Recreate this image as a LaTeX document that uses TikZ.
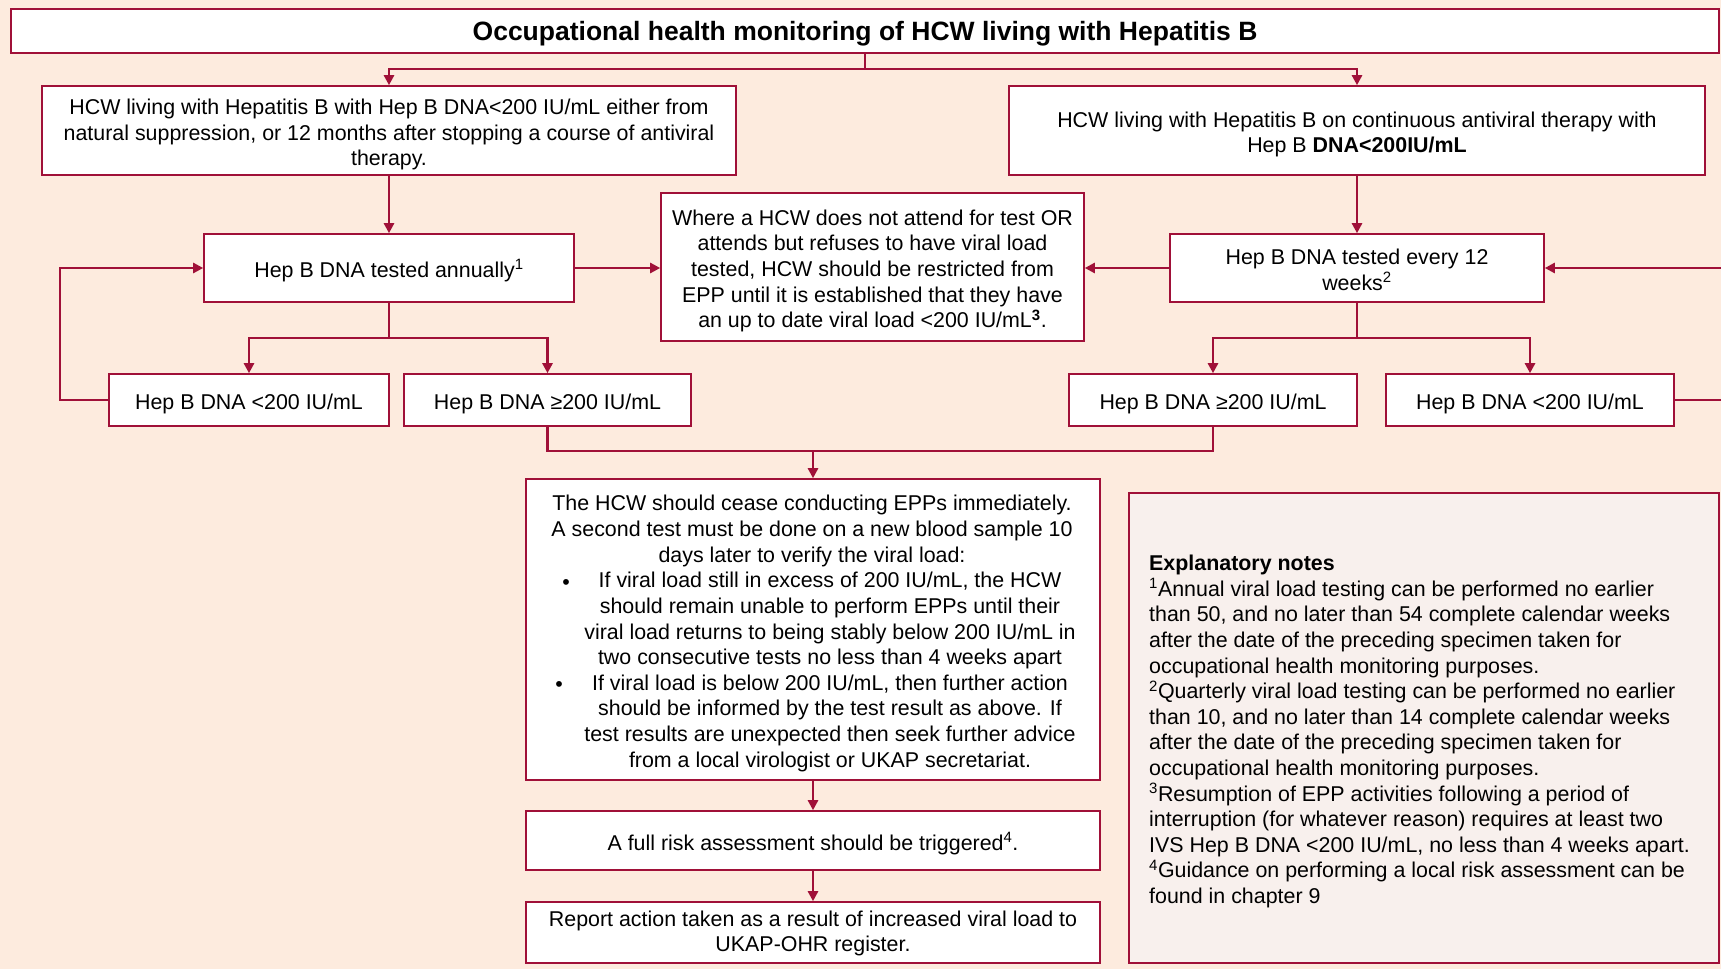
\documentclass[tikz,border=0pt]{standalone}
\usepackage{fontspec}
\setmainfont{Liberation Sans}
\usetikzlibrary{arrows.meta}
\definecolor{hbred}{RGB}{160,16,56}
\definecolor{peach}{RGB}{253,235,222}
\definecolor{notefill}{RGB}{248,240,237}
% struts that give every text block the same vertical extent
\newcommand{\ts}{\rule{0pt}{24pt}}
\newcommand{\bs}{\rule[-5pt]{0pt}{0pt}}
\begin{document}
\begin{tikzpicture}[x=1pt,y=-1pt,
  bodyfont/.style={font=\fontsize{21.4}{25.6}\selectfont},
  box/.style={draw=hbred, line width=1.6pt, fill=white, align=center,
    inner sep=0pt, bodyfont},
  txt/.style={inner sep=0pt, bodyfont},
  dot/.style={inner sep=0pt, bodyfont},
  conn/.style={draw=hbred, line width=2.6pt},
  arr/.style={conn, -{Triangle[length=10pt,width=10pt]}}]

% page background
\fill[peach] (0,0) rectangle (1721,969);
\useasboundingbox (0,0) rectangle (1721,969);

% title
\node[box, minimum width=1708pt, minimum height=44pt,
  font=\fontsize{26.5}{31}\selectfont\bfseries] (T) at (865,31)
  {\ts Occupational health monitoring of HCW living with Hepatitis B\bs};

% entry boxes
\node[box, minimum width=694pt, minimum height=89pt] (A) at (389,130.5)
  {\ts HCW living with Hepatitis B with Hep B DNA<200 IU/mL either from\\
   natural suppression, or 12 months after stopping a course of antiviral\\
   therapy.\bs};
\node[box, minimum width=696pt, minimum height=89pt] (B) at (1357,130.5)
  {\ts HCW living with Hepatitis B on continuous antiviral therapy with\\
   Hep B \textbf{DNA<200IU/mL}\bs};

% testing boxes
\node[box, minimum width=370pt, minimum height=68pt] (C) at (389,268)
  {\ts Hep B DNA tested annually\textsuperscript{1}\bs};
\node[box, minimum width=423pt, minimum height=148pt] (D) at (872.5,267)
  {\ts Where a HCW does not attend for test OR\\
   attends but refuses to have viral load\\
   tested, HCW should be restricted from\\
   EPP until it is established that they have\\
   an up to date viral load <200 IU/mL\textbf{\textsuperscript{3}}.\bs};
\node[box, minimum width=374pt, minimum height=68pt] (E) at (1357,268)
  {\ts Hep B DNA tested every 12\\weeks\textsuperscript{2}\bs};

% result boxes
\node[box, minimum width=280pt, minimum height=52pt] (F) at (249,400)
  {\ts Hep B DNA <200 IU/mL\bs};
\node[box, minimum width=287pt, minimum height=52pt] (G) at (547.5,400)
  {\ts Hep B DNA ≥200 IU/mL\bs};
\node[box, minimum width=288pt, minimum height=52pt] (H) at (1213,400)
  {\ts Hep B DNA ≥200 IU/mL\bs};
\node[box, minimum width=288pt, minimum height=52pt] (I) at (1530,400)
  {\ts Hep B DNA <200 IU/mL\bs};

% action box with its text
\node[box, minimum width=574pt, minimum height=301pt] (J) at (813,629.5) {};
\node[txt, align=center] (Jt) at (812,527)
  {\ts The HCW should cease conducting EPPs immediately.\\
   A second test must be done on a new blood sample 10\\
   days later to verify the viral load:\bs};
\node[txt, align=center] (Jb) at (830,668)
  {\ts If viral load still in excess of 200 IU/mL, the HCW\\
   should remain unable to perform EPPs until their\\
   viral load returns to being stably below 200 IU/mL in\\
   two consecutive tests no less than 4 weeks apart\\
   If viral load is below 200 IU/mL, then further action\\
   should be informed by the test result as above. If\\
   test results are unexpected then seek further advice\\
   from a local virologist or UKAP secretariat.\bs};
\node[dot] (b1) at (566,584.3) {•};
\node[dot] (b2) at (559,686.3) {•};

\node[box, minimum width=574pt, minimum height=59pt] (K) at (813,840.5)
  {\ts A full risk assessment should be triggered\textsuperscript{4}.\bs};
\node[box, minimum width=574pt, minimum height=61pt] (L) at (813,932.5)
  {\rule{0pt}{18pt}Report action taken as a result of increased viral load to\\
   UKAP-OHR register.\bs};

% explanatory notes
\node[box, fill=notefill, minimum width=590pt, minimum height=470pt] (N) at (1424,728) {};
\node[txt, align=left, anchor=west] (Nt) at (1149,727.5)
  {\ts\textbf{Explanatory notes}\\
   \textsuperscript{1}Annual viral load testing can be performed no earlier\\
   than 50, and no later than 54 complete calendar weeks\\
   after the date of the preceding specimen taken for\\
   occupational health monitoring purposes.\\
   \textsuperscript{2}Quarterly viral load testing can be performed no earlier\\
   than 10, and no later than 14 complete calendar weeks\\
   after the date of the preceding specimen taken for\\
   occupational health monitoring purposes.\\
   \textsuperscript{3}Resumption of EPP activities following a period of\\
   interruption (for whatever reason) requires at least two\\
   IVS Hep B DNA <200 IU/mL, no less than 4 weeks apart.\\
   \textsuperscript{4}Guidance on performing a local risk assessment can be\\
   found in chapter 9\bs};

% junction points
\coordinate (tj) at (865,69);
\coordinate (cj) at (389,338);
\coordinate (ej) at (1357,338);
\coordinate (mj) at (813,451);
\coordinate (lp) at (60,400);
\coordinate (re1) at (1721,268);
\coordinate (re2) at (1721,400);

% connectors
\draw[conn] (T.south) -- (tj);
\draw[arr] (tj) -| (A.north);
\draw[arr] (tj) -| (B.north);
\draw[arr] (A.south) -- (C.north);
\draw[arr] (B.south) -- (E.north);
\draw[arr] (C.east) -- (C.east -| D.west);
\draw[arr] (E.west) -- (E.west -| D.east);
\draw[conn] (C.south) -- (cj);
\draw[arr] (cj) -| (F.north);
\draw[arr] (cj) -| (G.north);
\draw[conn] (E.south) -- (ej);
\draw[arr] (ej) -| (H.north);
\draw[arr] (ej) -| (I.north);
\draw[arr] (F.west) -- (lp) |- (C.west);
\draw[arr] (re1) -- (E.east);
\draw[conn] (I.east) -- (re2);
\draw[conn] (G.south) |- (mj);
\draw[conn] (H.south) |- (mj);
\draw[arr] (mj) -- (J.north);
\draw[arr] (J.south) -- (K.north);
\draw[arr] (K.south) -- (L.north);
\end{tikzpicture}
\end{document}
